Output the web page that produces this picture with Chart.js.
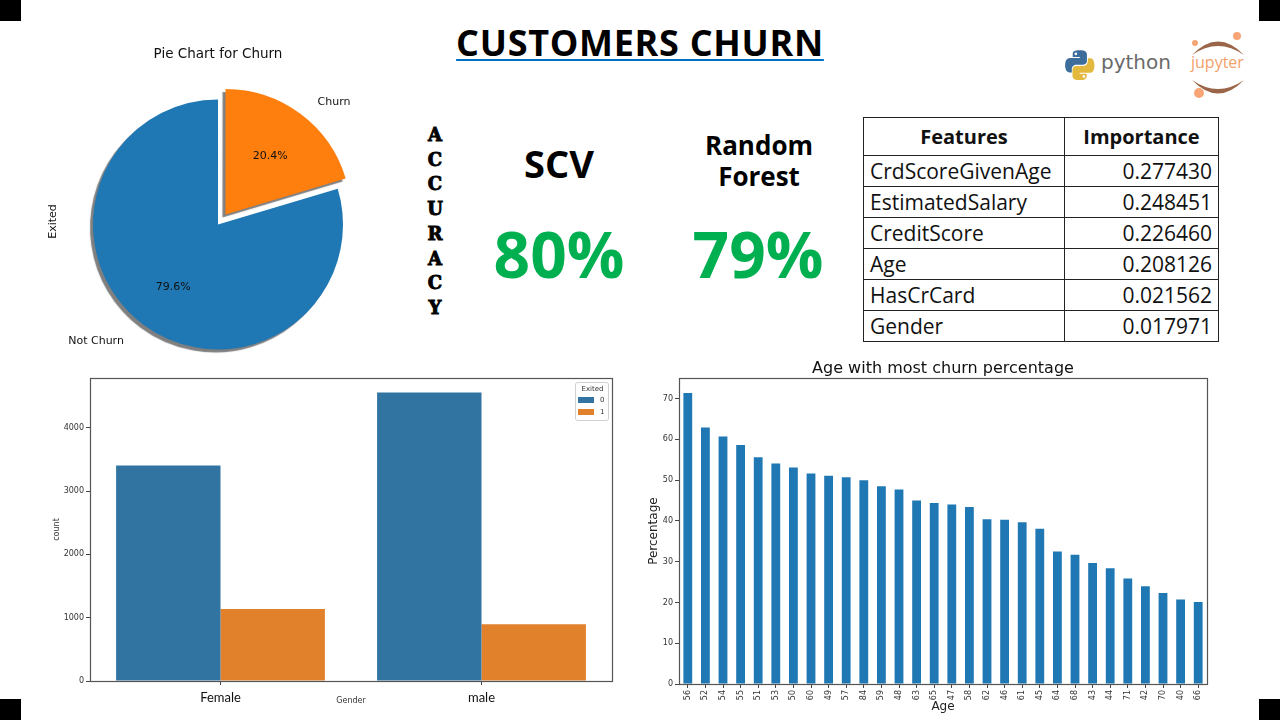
<!DOCTYPE html>
<html>
<head>
<meta charset="utf-8">
<script src="https://cdn.jsdelivr.net/npm/chart.js@4/dist/chart.umd.min.js"></script>
<style>
  html,body{margin:0;padding:0;background:#fff;}
  body{width:1280px;height:720px;position:relative;overflow:hidden;font-family:'Open Sans',sans-serif;}
  .abs{position:absolute;}
  .corner{position:absolute;width:21px;height:21px;background:#000;}
  #title{left:0;width:1280px;top:25px;text-align:center;font:bold 36px/1 'Open Sans',sans-serif;letter-spacing:0.7px;color:#000;}
  #title span{text-decoration:underline;text-decoration-color:#0070C0;text-decoration-thickness:2px;text-underline-offset:3px;}
  #acc{left:420px;width:30px;top:123px;text-align:center;font:bold 18px/24.7px 'DejaVu Serif',serif;color:#000;-webkit-text-stroke:0.9px #000;}
  .model{font:bold 38px/1 'Open Sans',sans-serif;color:#000;text-align:center;width:200px;}
  .model2{font:bold 26px/31px 'Open Sans',sans-serif;color:#000;text-align:center;width:200px;}
  .score{font:bold 64px/1 'Open Sans',sans-serif;color:#00B050;text-align:center;width:200px;}
  #tbl{position:absolute;left:863px;top:117px;border-collapse:collapse;font-family:'Open Sans',sans-serif;color:#111;}
  #tbl th,#tbl td{border:1px solid #222;padding:0 6px;white-space:nowrap;}
  #tbl th{height:37px;font-weight:bold;font-size:20px;text-align:center;line-height:37px;}
  #tbl td{height:30px;font-size:21px;line-height:30px;}
  #tbl td.num{text-align:right;}
  canvas{position:absolute;}
</style>
</head>
<body>
<div class="corner" style="left:0;top:0"></div>
<div class="corner" style="right:0;top:0"></div>
<div class="corner" style="left:0;bottom:0"></div>
<div class="corner" style="right:0;bottom:0"></div>

<div id="title" class="abs"><span>CUSTOMERS CHURN</span></div>

<!-- logos -->
<svg class="abs" style="left:1065px;top:50px" width="30" height="30" viewBox="0 0 112 112">
  <path fill="#3D6E9B" fill-rule="evenodd" d="M54.9,0.9c-4.6,0-8.9,0.4-12.8,1.1C30.8,4,28.8,8.2,28.8,15.9v10.2h26.6v3.4H28.8H18.8c-7.7,0-14.5,4.6-16.6,13.5c-2.4,10.2-2.5,16.5,0,27.1c1.9,7.9,6.4,13.5,14.1,13.5h9.1V71.4c0-8.8,7.6-16.6,16.6-16.6h26.6c7.4,0,13.3-6.1,13.3-13.5V15.9c0-7.2-6.1-12.6-13.3-13.9C64.1,1.3,59.4,0.9,54.9,0.9z M40.5,9.1c2.7,0,5,2.3,5,5.1c0,2.8-2.2,5.1-5,5.1c-2.8,0-5-2.3-5-5.1C35.5,11.4,37.8,9.1,40.5,9.1z"/>
  <path fill="#E2B83D" fill-rule="evenodd" d="M85.4,29.5v12.4c0,9.6-8.2,17.7-17.5,17.7H41.3c-7.3,0-13.3,6.2-13.3,13.5v25.3c0,7.2,6.3,11.4,13.3,13.5c8.4,2.5,16.5,2.9,26.6,0c6.7-1.9,13.3-5.8,13.3-13.5V88.3H54.7v-3.4h26.6h13.3c7.7,0,10.6-5.4,13.3-13.5c2.8-8.3,2.7-16.3,0-27.1c-1.9-7.8-5.6-13.5-13.3-13.5H85.4z M70.5,93.5c2.8,0,5,2.3,5,5.1c0,2.8-2.2,5.1-5,5.1c-2.7,0-5-2.3-5-5.1C65.5,95.8,67.7,93.5,70.5,93.5z"/>
</svg>
<div class="abs" style="left:1101px;top:52.4px;font:20px/1 'DejaVu Sans',sans-serif;color:#6a6a6a;">python</div>
<svg class="abs" style="left:1185px;top:30px" width="70" height="70" viewBox="0 0 70 70">
  <path fill="#9A6548" d="M7,25 Q33,-2 59,25 Q33,7 7,25 Z"/>
  <path fill="#9A6548" d="M7,50 Q33,77 59,50 Q33,68 7,50 Z"/>
  <circle cx="52" cy="6" r="4" fill="#F7A576"/>
  <circle cx="10" cy="13" r="3" fill="#F7A576"/>
  <circle cx="14" cy="63" r="5" fill="#F7A576"/>
</svg>
<div class="abs" style="left:1191px;top:54px;font:16px/1 'Open Sans',sans-serif;color:#F5A06A;">jupyter</div>

<!-- accuracy block -->
<div id="acc" class="abs">A<br>C<br>C<br>U<br>R<br>A<br>C<br>Y</div>
<div class="abs model" style="left:459px;top:144.3px">SCV</div>
<div class="abs model2" style="left:659px;top:130px">Random<br>Forest</div>
<div class="abs score" style="left:459px;top:222.2px" id="s1"></div>
<div class="abs score" style="left:658px;top:222.2px" id="s2"></div>

<table id="tbl"></table>

<canvas id="pie" width="400" height="350" style="left:20px;top:30px"></canvas>
<canvas id="gender" width="620" height="360" style="left:20px;top:360px"></canvas>
<canvas id="age" width="640" height="380" style="left:640px;top:340px"></canvas>

<script>
// ---------------- DATA ----------------
const accuracyModels = ['SCV', 'Random Forest'];
const accuracyValues = [80, 79];

const featureNames = ['CrdScoreGivenAge','EstimatedSalary','CreditScore','Age','HasCrCard','Gender'];
const featureImportance = ['0.277430','0.248451','0.226460','0.208126','0.021562','0.017971'];

const pieLabels = ['Churn', 'Not Churn'];
const pieCounts = [2037, 7963];

const genderCats = ['Female', 'male'];
const exitedLabels = ['0', '1'];
const stayedCounts = [3404, 4559];
const exitedCounts = [1139, 898];
const genderTicks = [0, 1000, 2000, 3000, 4000];

const ageCats = ['56','52','54','55','51','53','50','60','49','57','84','59','48','63','65','47','58','62','46','61','45','64','68','43','44','71','42','70','40','66'];
const agePct = [71.4,62.9,60.7,58.6,55.6,54.1,53.1,51.6,51.1,50.7,50.0,48.5,47.7,45.0,44.4,44.0,43.4,40.4,40.3,39.7,38.1,32.5,31.7,29.7,28.4,25.9,24.0,22.3,20.7,20.1];
const ageTicks = [0, 10, 20, 30, 40, 50, 60, 70];

// ---------------- HTML parts ----------------
document.getElementById('s1').textContent = accuracyValues[0] + '%';
document.getElementById('s2').textContent = accuracyValues[1] + '%';
(function(){
  const t = document.getElementById('tbl');
  let h = '<tr><th style="width:188px">Features</th><th style="width:141px">Importance</th></tr>';
  featureNames.forEach((f,i)=>{ h += '<tr><td>'+f+'</td><td class="num">'+featureImportance[i]+'</td></tr>'; });
  t.innerHTML = h;
})();

// ---------------- Chart.js ----------------
Chart.defaults.font.family = "'DejaVu Sans', sans-serif";
Chart.defaults.color = '#222';
Chart.defaults.animation = false;

const framePlugin = {
  id: 'frame',
  afterDraw(chart) {
    const {ctx, chartArea: a} = chart;
    ctx.save();
    ctx.strokeStyle = '#555';
    ctx.lineWidth = 1.2;
    ctx.strokeRect(Math.round(a.left) + 0.5, Math.round(a.top) + 0.5, Math.round(a.width), Math.round(a.height));
    ctx.restore();
  }
};

const boxLegend = {
  id: 'boxLegend',
  afterDraw(chart, args, o) {
    const {ctx, chartArea: a} = chart;
    const ds = chart.data.datasets;
    const w = 33, h = 38;
    const x = a.right - 4 - w, y = a.top + 4;
    ctx.save();
    ctx.fillStyle = 'rgba(255,255,255,0.85)';
    ctx.strokeStyle = '#d0d0d0';
    ctx.lineWidth = 1;
    ctx.beginPath();
    ctx.roundRect(x + 0.5, y + 0.5, w, h, 2);
    ctx.fill(); ctx.stroke();
    ctx.fillStyle = '#333';
    ctx.font = "7px 'DejaVu Sans', sans-serif";
    ctx.textAlign = 'center';
    ctx.textBaseline = 'middle';
    ctx.fillText(o.title, x + w / 2 + 1, y + 7);
    ds.forEach((d, i) => {
      const yy = y + 18 + i * 12;
      ctx.fillStyle = d.backgroundColor;
      ctx.fillRect(x + 3, yy - 3, 16, 6);
      ctx.fillStyle = '#333';
      ctx.textAlign = 'left';
      ctx.fillText(d.label, x + 25, yy);
    });
    ctx.restore();
  }
};

const pieDecor = {
  id: 'pieDecor',
  beforeDatasetsDraw(chart) {
    const c = chart.ctx;
    c.save();
    c.shadowColor = 'rgba(0,0,0,0.5)';
    c.shadowOffsetX = -3;
    c.shadowOffsetY = 3;
    c.shadowBlur = 1;
  },
  afterDatasetsDraw(chart, args, o) {
    const c = chart.ctx;
    c.restore();
    const meta = chart.getDatasetMeta(0);
    const ds = chart.data.datasets[0];
    const total = ds.data.reduce((s, v) => s + v, 0);
    c.save();
    c.fillStyle = '#111';
    c.font = "11px 'DejaVu Sans', sans-serif";
    c.textBaseline = 'middle';
    meta.data.forEach((arc, i) => {
      const mid = (arc.startAngle + arc.endAngle) / 2;
      const off = (arc.options.offset || 0) / 4;
      const cx = arc.x + Math.cos(mid) * off, cy = arc.y + Math.sin(mid) * off;
      const r = arc.outerRadius;
      c.textAlign = 'center';
      c.fillText((ds.data[i] / total * 100).toFixed(1) + '%', cx + Math.cos(mid) * r * 0.6, cy + Math.sin(mid) * r * 0.6 + 2);
      const right = Math.cos(mid) > 0;
      const lx = cx + Math.cos(mid) * r * 1.14 + (right ? 7 : -9);
      const ly = cy + Math.sin(mid) * r * 1.14 + 2;
      c.textAlign = right ? 'left' : 'right';
      c.fillText(chart.data.labels[i], lx, ly);
    });
    const a = chart.chartArea;
    c.translate(a.left - 15, (a.top + a.bottom) / 2 - 3);
    c.rotate(-Math.PI / 2);
    c.textAlign = 'center';
    c.fillText(o.ylabel, 0, 0);
    c.restore();
  }
};

// Pie chart
new Chart(document.getElementById('pie'), {
  type: 'pie',
  data: {
    labels: pieLabels,
    datasets: [{ data: pieCounts, backgroundColor: ['#FF7F0E', '#1F77B4'], borderWidth: 0, offset: [50, 0] }]
  },
  options: {
    responsive: false,
    animation: false,
    layout: { padding: { left: 48, right: 52, top: 0, bottom: 5 } },
    plugins: {
      legend: { display: false },
      tooltip: { enabled: false },
      title: { display: true, text: 'Pie Chart for Churn', fullSize: false, color: '#111', align: 'center',
               font: { size: 13.5, weight: 'normal' }, padding: { top: 16, bottom: 11.8 } },
      pieDecor: { ylabel: 'Exited' }
    }
  },
  plugins: [pieDecor]
});

// Gender count chart
new Chart(document.getElementById('gender'), {
  type: 'bar',
  data: {
    labels: genderCats,
    datasets: [
      { label: exitedLabels[0], data: stayedCounts, backgroundColor: '#3274A1' },
      { label: exitedLabels[1], data: exitedCounts, backgroundColor: '#E1812C' }
    ]
  },
  options: {
    responsive: false,
    animation: false,
    layout: { padding: { left: 0, right: 28, top: 18, bottom: 0 } },
    datasets: { bar: { categoryPercentage: 0.8, barPercentage: 1.0 } },
    plugins: { legend: { display: false }, tooltip: { enabled: false }, boxLegend: { title: 'Exited' } },
    scales: {
      x: {
        grid: { drawOnChartArea: false, drawTicks: true, tickLength: 4, color: '#444', offset: false },
        border: { display: false },
        ticks: { font: { family: "Lato, sans-serif", size: 13 }, color: '#111', padding: 5 },
        title: { display: true, text: 'Gender', font: { size: 8 }, color: '#333', padding: { top: 0, bottom: 14 } },
        afterFit(s) { s.height = 39; }
      },
      y: {
        min: 0, max: 4787,
        afterBuildTicks(s) { s.ticks = genderTicks.map(v => ({ value: v })); },
        ticks: { autoSkip: false, font: { size: 8 }, color: '#333', padding: 2, callback: v => String(v) },
        grid: { drawOnChartArea: false, tickLength: 4, color: '#444' },
        border: { display: false },
        title: { display: true, text: 'count', font: { size: 8 }, color: '#333', padding: { top: 32, bottom: 0 } },
        afterFit(s) { s.width = 70; }
      }
    }
  },
  plugins: [framePlugin, boxLegend]
});

// Age churn percentage chart
new Chart(document.getElementById('age'), {
  type: 'bar',
  data: {
    labels: ageCats,
    datasets: [{ label: 'Percentage', data: agePct, backgroundColor: '#1F77B4' }]
  },
  options: {
    responsive: false,
    animation: false,
    layout: { padding: { left: 0, right: 73, top: 0, bottom: 0 } },
    datasets: { bar: { categoryPercentage: 1.0, barPercentage: 0.5 } },
    plugins: {
      legend: { display: false },
      tooltip: { enabled: false },
      title: { display: true, text: 'Age with most churn percentage', fullSize: false, color: '#111',
               font: { size: 16, weight: 'normal' }, padding: { top: 19, bottom: 0 } }
    },
    scales: {
      x: {
        grid: { drawOnChartArea: false, drawTicks: true, tickLength: 4, color: '#444', offset: false },
        border: { display: false },
        ticks: { font: { size: 8 }, color: '#333', padding: 2, minRotation: 90, maxRotation: 90, autoSkip: false },
        title: { display: true, text: 'Age', font: { size: 12 }, color: '#222', padding: { top: 0, bottom: 5.8 } },
        afterFit(s) { s.height = 36; }
      },
      y: {
        min: 0, max: 75,
        afterBuildTicks(s) { s.ticks = ageTicks.map(v => ({ value: v })); },
        ticks: { autoSkip: false, font: { size: 8 }, color: '#333', padding: 2, callback: v => String(v) },
        grid: { drawOnChartArea: false, tickLength: 4, color: '#444' },
        border: { display: false },
        title: { display: true, text: 'Percentage', font: { size: 12 }, color: '#222', padding: { top: 6.8, bottom: 0 } },
        afterFit(s) { s.width = 39; }
      }
    }
  },
  plugins: [framePlugin]
});
</script>
</body>
</html>
